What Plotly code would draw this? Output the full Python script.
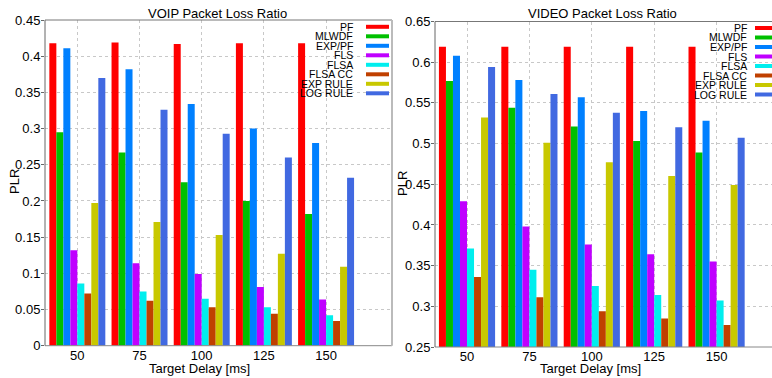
import plotly.graph_objects as go

W, H = 772, 378

categories = ["50", "75", "100", "125", "150"]
series_names = ["PF", "MLWDF", "EXP/PF", "FLS", "FLSA", "FLSA CC", "EXP RULE", "LOG RULE"]
series_colors = ["#ff0000", "#00c000", "#0080ff", "#c000ff", "#00eeee", "#c04000", "#c8c800", "#4169e1"]

# VOIP packet loss ratio
voip_pf = [0.418, 0.419, 0.417, 0.418, 0.418]
voip_mlwdf = [0.295, 0.267, 0.226, 0.200, 0.182]
voip_exppf = [0.411, 0.382, 0.334, 0.300, 0.280]
voip_fls = [0.132, 0.114, 0.099, 0.081, 0.064]
voip_flsa = [0.086, 0.075, 0.065, 0.053, 0.042]
voip_flsacc = [0.072, 0.062, 0.053, 0.044, 0.034]
voip_exprule = [0.197, 0.171, 0.153, 0.127, 0.109]
voip_logrule = [0.370, 0.326, 0.293, 0.260, 0.232]

# VIDEO packet loss ratio
video_pf = [0.619, 0.619, 0.619, 0.619, 0.619]
video_mlwdf = [0.577, 0.544, 0.521, 0.503, 0.489]
video_exppf = [0.608, 0.578, 0.557, 0.540, 0.528]
video_fls = [0.429, 0.398, 0.376, 0.364, 0.355]
video_flsa = [0.371, 0.345, 0.325, 0.314, 0.307]
video_flsacc = [0.336, 0.311, 0.294, 0.285, 0.277]
video_exprule = [0.532, 0.501, 0.477, 0.460, 0.449]
video_logrule = [0.594, 0.561, 0.538, 0.520, 0.507]

voip = [voip_pf, voip_mlwdf, voip_exppf, voip_fls, voip_flsa, voip_flsacc, voip_exprule, voip_logrule]
video = [video_pf, video_mlwdf, video_exppf, video_fls, video_flsa, video_flsacc, video_exprule, video_logrule]


def px(x):
    return x / W


def py(y):
    return 1 - y / H


FONT = "Liberation Sans, Arial, sans-serif"

fig = go.Figure()
for name, color, vals in zip(series_names, series_colors, voip):
    fig.add_trace(go.Bar(x=categories, y=vals, name=name, marker=dict(color=color, line=dict(width=0)),
                         xaxis="x", yaxis="y", showlegend=False))
for name, color, vals in zip(series_names, series_colors, video):
    fig.add_trace(go.Bar(x=categories, y=vals, name=name, marker=dict(color=color, line=dict(width=0)),
                         xaxis="x2", yaxis="y2", showlegend=False))

grid = dict(showgrid=True, gridcolor="#c8c8c8", griddash="dot", gridwidth=1, zeroline=False, automargin=False)
tickfont = dict(family=FONT, size=13, color="#000")

L1, R1, T1, B1 = 45, 392, 20, 345.7
L2, R2, T2, B2 = 435, 772, 21.5, 347

fig.update_layout(
    template="none",
    width=W, height=H, margin=dict(l=0, r=0, t=0, b=0, pad=0, autoexpand=False),
    paper_bgcolor="white", plot_bgcolor="white", showlegend=False,
    barmode="group", bargap=0.1, bargroupgap=0,
    font=dict(family=FONT, size=13, color="#000"),
    xaxis=dict(domain=[px(L1), px(R1)], anchor="y", type="category", range=[-0.52, 5.06],
               showline=False, ticks="", tickfont=tickfont, **grid),
    yaxis=dict(domain=[py(B1), py(T1)], anchor="x", range=[0, 0.45], tick0=0, dtick=0.05,
               showline=False, ticks="outside", ticklen=3, tickcolor="#666", tickfont=tickfont,
               ticklabelstandoff=-2, **grid),
    xaxis2=dict(domain=[px(L2), px(R2)], anchor="y2", type="category", range=[-0.513, 4.888],
                showline=False, ticks="", tickfont=tickfont, **grid),
    yaxis2=dict(domain=[py(B2), py(T2)], anchor="x2", range=[0.25, 0.65], tick0=0.25, dtick=0.05,
                showline=False, ticks="outside", ticklen=3, tickcolor="#666", tickfont=tickfont,
                ticklabelstandoff=-2, **grid),
)

shapes = []
for xr, yr, right_border in (("x domain", "y domain", True), ("x2 domain", "y2 domain", False)):
    shapes.append(dict(type="line", xref=xr, yref=yr, x0=0, x1=1, y0=0, y1=0, line=dict(color="#888", width=1)))
    shapes.append(dict(type="line", xref=xr, yref=yr, x0=0, x1=1, y0=1, y1=1, line=dict(color="#777", width=1)))
    shapes.append(dict(type="line", xref=xr, yref=yr, x0=0, x1=0, y0=0, y1=1, line=dict(color="#666", width=1)))
    if right_border:
        shapes.append(dict(type="line", xref=xr, yref=yr, x0=1, x1=1, y0=0, y1=1, line=dict(color="#bbb", width=2)))

annotations = []
# titles, axis titles
for (tx, ty, txt) in ((217, 13, "VOIP Packet Loss Ratio"), (602, 13, "VIDEO Packet Loss Ratio"),
                      (200, 368, "Target Delay [ms]"), (590, 368, "Target Delay [ms]")):
    annotations.append(dict(xref="paper", yref="paper", x=px(tx), y=py(ty), text=txt, showarrow=False,
                            xanchor="center", yanchor="middle", font=dict(family=FONT, size=13, color="#000")))
for (tx, ty) in ((14, 181), (402, 183)):
    annotations.append(dict(xref="paper", yref="paper", x=px(tx), y=py(ty), text="PLR", showarrow=False,
                            textangle=-90, xanchor="center", yanchor="middle",
                            font=dict(family=FONT, size=13, color="#000")))

# legends (gnuplot style: right-aligned text, colored sample to the right)
for text_end, s0, s1, y0 in ((355, 366, 389, 26.8), (749, 755, 772, 28)):
    for i, (name, color) in enumerate(zip(series_names, series_colors)):
        yy = y0 + i * 9.5
        annotations.append(dict(xref="paper", yref="paper", x=px(text_end), y=py(yy), text=name,
                                showarrow=False, xanchor="right", yanchor="middle",
                                font=dict(family=FONT, size=10.5, color="#000")))
        shapes.append(dict(type="rect", xref="paper", yref="paper", x0=px(s0), x1=px(s1),
                           y0=py(yy - 2), y1=py(yy + 2), fillcolor=color, line=dict(width=0)))

fig.update_layout(shapes=shapes, annotations=annotations)
fig.write_html("out.html")
